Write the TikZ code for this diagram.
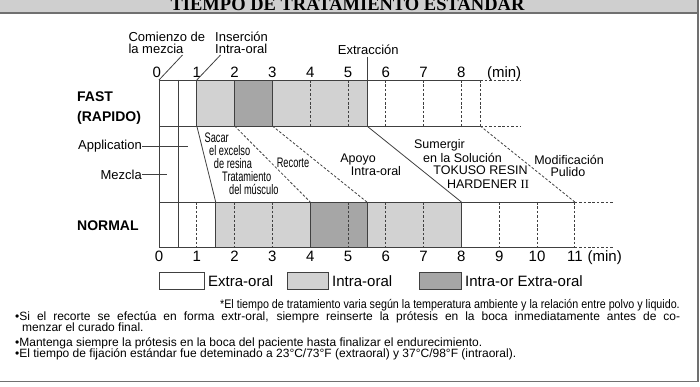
\documentclass[tikz,border=0pt]{standalone}
\usepackage{fontspec}
\setmainfont{Liberation Sans}
\newfontfamily\narrowfont[FakeStretch=0.67]{Liberation Sans}
\newfontfamily\footfont[FakeStretch=0.865]{Liberation Sans}
\newfontfamily\titlefont{Liberation Serif}
\newfontfamily\romanfont{Liberation Serif}
\definecolor{lgray}{HTML}{D2D2D2}
\definecolor{dgray}{HTML}{A6A6A6}
\definecolor{linec}{HTML}{404040}
\definecolor{framec}{HTML}{707070}
\definecolor{barc}{HTML}{CFCFCF}
\newcommand\fs[1]{\fontsize{#1}{#1}\selectfont}
\begin{document}
\begin{tikzpicture}[x=1pt,y=-1pt,
  chart/.style={draw=linec, line width=0.8pt},
  dashline/.style={draw=linec, line width=0.8pt, dash pattern=on 2.6pt off 1.8pt},
  txt/.style={inner sep=0pt, font=\fs{13}},
  axisnum/.style={inner sep=0pt, anchor=base, font=\fs{15}},
  rowlbl/.style={inner sep=0pt, anchor=base west, font=\bfseries\fs{14}},
  mid/.style={inner sep=0pt, anchor=base, font=\fs{12.5}},
  nar/.style={inner sep=0pt, anchor=base, font=\narrowfont\fs{13.8}},
  legbox/.style={draw=linec, line width=0.8pt},
  legtxt/.style={inner sep=0pt, anchor=base west, font=\fs{15}},
  bullet/.style={inner sep=0pt, anchor=base west, font=\fs{12}}]
\useasboundingbox (0,0) rectangle (700,387);
% title bar
\begin{scope}
\clip (0,0) rectangle (698,12.6);
\fill[barc] (0,0) rectangle (698,13);
\node[anchor=base, inner sep=0pt, font=\titlefont\bfseries\fs{18.5}] (title) at (347.5,10.8) {TIEMPO DE TRATAMIENTO ESTANDAR};
\end{scope}
\draw[framec, line width=1.8pt] (0,13.3) -- (698,13.3);
\draw[framec, line width=1.6pt] (698,0) -- (698,381.5) -- (0,381.5);

% chart
\begin{scope}[xshift=159pt, x=37.8pt]
\fill[lgray] (1,80) rectangle (2,126);
\fill[dgray] (2,80) rectangle (3,126);
\fill[lgray] (3,80) rectangle (5.5,126);
\fill[lgray] (1.5,202) rectangle (4,247);
\fill[dgray] (4,202) rectangle (5.5,247);
\fill[lgray] (5.5,202) rectangle (8,247);
\coordinate (ft0) at (0,80);
\coordinate (ft1) at (1,80);
\coordinate (ext) at (5.5,57);
% horizontal lines
\draw[chart] (ft0) -- (8.5,80);
\draw[chart] (0,126) -- (8.5,126);
\draw[chart] (0,202) -- (11,202);
\draw[chart] (0,247) -- (11,247);
\draw[dashline] (8.5,80) -- (9.55,80);
\draw[dashline] (8.5,126) -- (9.55,126);
\draw[dashline] (11,202) -- (12.0,202);
\draw[dashline] (11,247) -- (12.0,247);
% vertical solid
\draw[chart] (0,80) -- (0,247);
\draw[chart] (0.5,80) -- (0.5,247);
\foreach \t in {1,2,3} \draw[chart] (\t,80) -- (\t,126);
\draw[chart] (ext) -- (5.5,126);
\foreach \t in {1.5,4,5.5,8} \draw[chart] (\t,202) -- (\t,247);
% vertical dashed
\foreach \t in {4,5,6,7,8,8.5} \draw[dashline] (\t,80) -- (\t,126);
\foreach \t in {1,2,3,5,6,7,9,10,11} \draw[dashline] (\t,202) -- (\t,247);
% diagonals
\draw[chart] (1,126) -- (1.5,202);
\draw[dashline] (2,126) -- (4,202);
\draw[dashline] (3,126) -- (5.5,202);
\draw[chart] (5.5,126) -- (8,202);
\draw[dashline] (8.5,126) -- (11,202);
% axis numbers
\node[axisnum] (t0) at (-0.06,77.3) {0};
\foreach \t in {1,...,8} \node[axisnum] (t\t) at (\t,77.3) {\t};
\node[axisnum] (tmin) at (9.13,77.3) {(min)};
\foreach \t in {0,...,11} \node[axisnum] (b\t) at (\t,261.7) {\t};
\node[axisnum] (bmin) at (11.79,261.7) {(min)};
\end{scope}

% top labels
\node[txt, anchor=base west] (com1) at (128.3,41.7) {Comienzo de};
\node[txt, anchor=base west] (com2) at (128.3,53.3) {la mezcia};
\node[txt, anchor=base west] (ins1) at (215,41.7) {Inserción};
\node[txt, anchor=base west] (ins2) at (215,53.3) {Intra-oral};
\node[txt, anchor=base] (extr) at (368.3,54.5) {Extracción};
\coordinate (comEnd) at (182.5,55);
\coordinate (insEnd) at (220.5,55);
\draw[chart] (ft0) -- (comEnd);
\draw[chart] (ft1) -- (insEnd);

% row labels
\node[rowlbl] (fast) at (77,101.7) {FAST};
\node[rowlbl] (rapido) at (77,121.7) {(RAPIDO)};
\node[rowlbl] (normal) at (77,230) {NORMAL};
\node[txt, anchor=base east] (app) at (142,150) {Application};
\node[txt, anchor=base east] (mez) at (142,179.3) {Mezcla};
\coordinate (appEnd) at (188,146.6);
\coordinate (mezEnd) at (167,174.6);
\draw[chart] (app.east |- appEnd) -- (appEnd);
\draw[chart] (mez.east |- mezEnd) -- (mezEnd);

% middle texts
\node[nar] (s1) at (216.7,142.3) {Sacar};
\node[nar] (s2) at (229.7,156) {el excelso};
\node[nar] (s3) at (233,169) {de resina};
\node[nar] (s4) at (246.7,182) {Tratamiento};
\node[nar] (s5) at (253.8,195) {del músculo};
\node[nar] (rec) at (293,167.7) {Recorte};
\node[mid] (apo1) at (358,162.3) {Apoyo};
\node[mid] (apo2) at (376,175.8) {Intra-oral};
\node[mid] (sum1) at (439.5,149) {Sumergir};
\node[mid] (sum2) at (462.5,162.5) {en la Solución};
\node[mid] (sum3) at (480.5,174.8) {TOKUSO RESIN};
\node[mid] (sum4) at (488,188.2) {HARDENER {\romanfont II}};
\node[mid] (mod1) at (569,164.3) {Modificación};
\node[mid] (mod2) at (568,176.7) {Pulido};

% legend
\draw[legbox, fill=white] (159,272) rectangle (204,289);
\node[legtxt] (l1) at (208,286) {Extra-oral};
\draw[legbox, fill=lgray] (287,272) rectangle (328,289);
\node[legtxt] (l2) at (332,286) {Intra-oral};
\draw[legbox, fill=dgray] (419,272) rectangle (461,289);
\node[legtxt] (l3) at (465,286) {Intra-or Extra-oral};

% notes
\node[inner sep=0pt, anchor=base east, font=\footfont\fs{12.4}] (foot) at (680,308) {*El tiempo de tratamiento varia según la temperatura ambiente y la relación entre polvo y liquido.};
\node[bullet] (n1) at (15,320) {\makebox[665pt][s]{•Si el recorte se efectúa en forma extr-oral, siempre reinserte la prótesis en la boca inmediatamente antes de co-}};
\node[bullet] (n1b) at (22,331.5) {menzar el curado final.};
\node[bullet] (n2) at (15,346) {•Mantenga siempre la prótesis en la boca del paciente hasta finalizar el endurecimiento.};
\node[bullet] (n3) at (15,357.5) {•El tiempo de fijación estándar fue deteminado a 23°C/73°F (extraoral) y 37°C/98°F (intraoral).};
\end{tikzpicture}
\end{document}
